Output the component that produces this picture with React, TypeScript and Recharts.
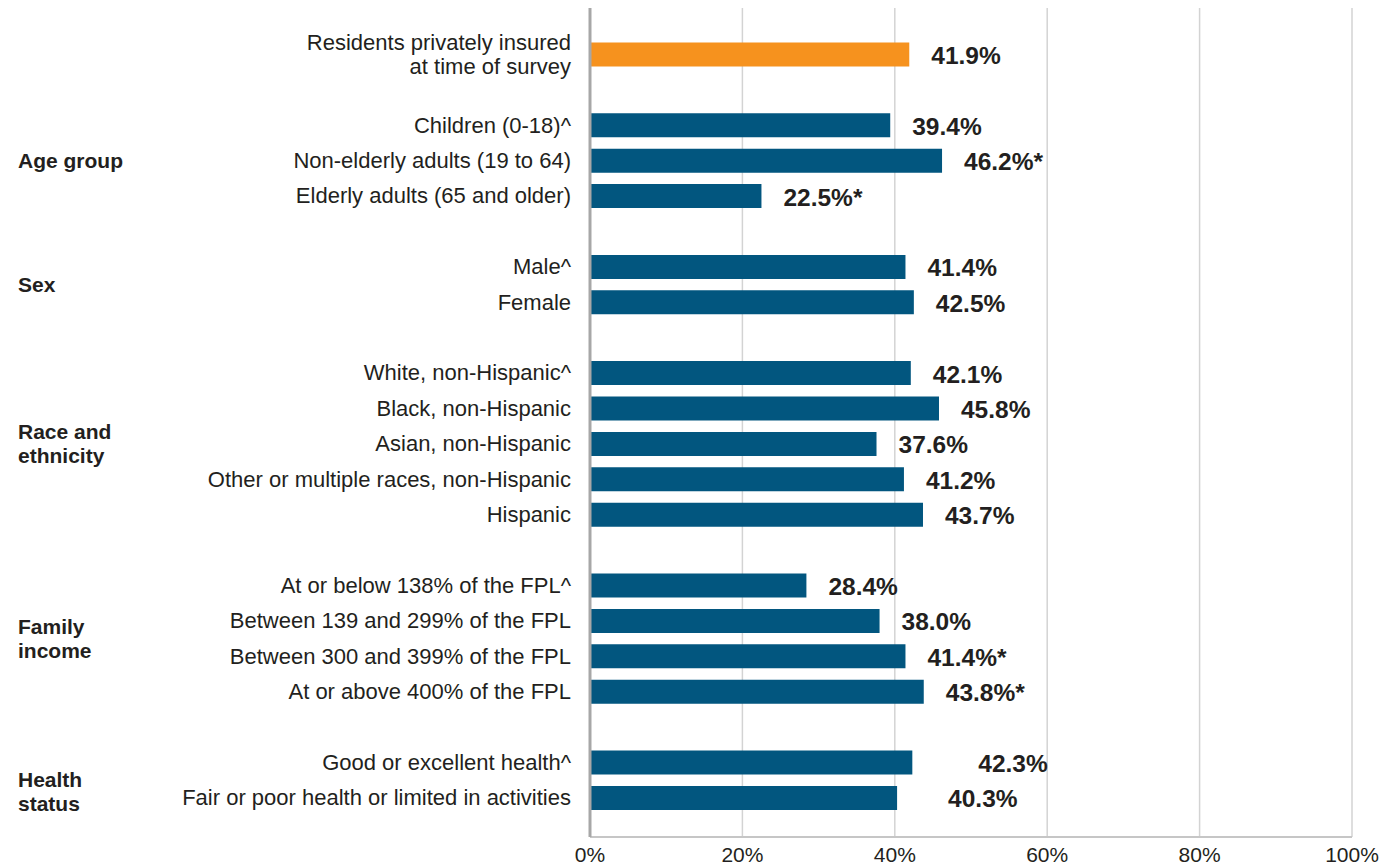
import { Bar, BarChart, CartesianGrid, Cell, LabelList, XAxis, YAxis } from "recharts"

const overallCategories = ["Residents privately insured\nat time of survey"]
const overallValues = [41.9]
const overallLabels = ["41.9%"]

const ageCategories = ["Children (0-18)^", "Non-elderly adults (19 to 64)", "Elderly adults (65 and older)"]
const ageValues = [39.4, 46.2, 22.5]
const ageLabels = ["39.4%", "46.2%*", "22.5%*"]

const sexCategories = ["Male^", "Female"]
const sexValues = [41.4, 42.5]
const sexLabels = ["41.4%", "42.5%"]

const raceCategories = [
  "White, non-Hispanic^",
  "Black, non-Hispanic",
  "Asian, non-Hispanic",
  "Other or multiple races, non-Hispanic",
  "Hispanic",
]
const raceValues = [42.1, 45.8, 37.6, 41.2, 43.7]
const raceLabels = ["42.1%", "45.8%", "37.6%", "41.2%", "43.7%"]

const incomeCategories = [
  "At or below 138% of the FPL^",
  "Between 139 and 299% of the FPL",
  "Between 300 and 399% of the FPL",
  "At or above 400% of the FPL",
]
const incomeValues = [28.4, 38.0, 41.4, 43.8]
const incomeLabels = ["28.4%", "38.0%", "41.4%*", "43.8%*"]

const healthCategories = ["Good or excellent health^", "Fair or poor health or limited in activities"]
const healthValues = [42.3, 40.3]
const healthLabels = ["42.3%", "40.3%"]

const xTicks = [0, 20, 40, 60, 80, 100]

const GROUPS = [
  { title: "", categories: overallCategories, values: overallValues, labels: overallLabels },
  { title: "Age group", categories: ageCategories, values: ageValues, labels: ageLabels },
  { title: "Sex", categories: sexCategories, values: sexValues, labels: sexLabels },
  { title: "Race and\nethnicity", categories: raceCategories, values: raceValues, labels: raceLabels },
  { title: "Family\nincome", categories: incomeCategories, values: incomeValues, labels: incomeLabels },
  { title: "Health\nstatus", categories: healthCategories, values: healthValues, labels: healthLabels },
]

type Row = {
  id: string
  name: string
  value: number | null
  label: string
  group: string
  first: boolean
  size: number
  overall: boolean
}

// one empty row between groups
const rows: Row[] = []
GROUPS.forEach((g, gi) => {
  if (gi > 0) {
    rows.push({ id: `gap-${gi}`, name: "", value: null, label: "", group: "", first: false, size: 0, overall: false })
  }
  g.categories.forEach((name, i) => {
    rows.push({
      id: `row-${gi}-${i}`,
      name,
      value: g.values[i],
      label: g.labels[i],
      group: g.title,
      first: i === 0,
      size: g.categories.length,
      overall: gi === 0,
    })
  })
})

const FONT = "'Liberation Sans', Arial, Helvetica, sans-serif"
const TEXT = "#231f20"
const ORANGE = "#f6921e"
const BLUE = "#02567f"

const TOP = 8
const PLOT_H = 829
const PAD_TOP = 28.5
const PAD_BOTTOM = 21.7
const ROW = (PLOT_H - PAD_TOP - PAD_BOTTOM) / rows.length
const LINE = 24

// a few labels sit further right in the original
const LABEL_SHIFT: Record<string, number> = { "42.3%": 44, "40.3%": 29 }
const GROUP_SHIFT: Record<string, number> = { "Health\nstatus": 12 }

function CategoryTick({ x, y, payload }: any) {
  const row = rows.find((r) => r.id === payload.value)
  if (!row || !row.name) return null
  const lines = row.name.split("\n")
  const base = y - ((lines.length - 1) / 2) * LINE + 7.5
  let group = null
  if (row.first && row.group) {
    const gl = row.group.split("\n")
    const cy = y + ((row.size - 1) / 2) * ROW + (GROUP_SHIFT[row.group] ?? 0)
    const gb = cy - ((gl.length - 1) / 2) * LINE + 7.5
    group = (
      <text x={18} y={gb} fill={TEXT} fontSize={21} fontWeight="bold" fontFamily={FONT}>
        {gl.map((l, i) => (
          <tspan key={i} x={18} y={gb + i * LINE}>
            {l}
          </tspan>
        ))}
      </text>
    )
  }
  return (
    <g>
      <text x={x} y={base} textAnchor="end" fill={TEXT} fontSize={22} fontFamily={FONT}>
        {lines.map((l, i) => (
          <tspan key={i} x={x} y={base + i * LINE}>
            {l}
          </tspan>
        ))}
      </text>
      {group}
    </g>
  )
}

function ValueLabel(props: any) {
  if (!props.value) return null
  const vb = props.viewBox && typeof props.viewBox.x === "number" ? props.viewBox : props
  const { x, y, width, height } = vb
  const extra = LABEL_SHIFT[props.value] ?? 0
  return (
    <text
      x={x + width + 22 + extra}
      y={y + height / 2 + 1}
      dominantBaseline="central"
      fill={TEXT}
      fontSize={24.5}
      fontWeight="bold"
      fontFamily={FONT}
    >
      {props.value}
    </text>
  )
}

export default function App() {
  return (
    <div style={{ position: "absolute", left: 0, top: 0, background: "#fff" }}>
      <BarChart
        width={1399}
        height={866}
        data={rows}
        layout="vertical"
        margin={{ top: TOP, right: 47, bottom: 0, left: 0 }}
      >
        <CartesianGrid horizontal={false} stroke="#d3d3d3" strokeWidth={1.5} />
        <XAxis
          type="number"
          domain={[0, 100]}
          ticks={xTicks}
          tickFormatter={(v) => `${v}%`}
          height={29}
          tickSize={0}
          tickMargin={10}
          axisLine={{ stroke: "#c6c6c6", strokeWidth: 2 }}
          tick={{ fill: TEXT, fontSize: 21, fontFamily: FONT }}
        />
        <YAxis
          type="category"
          dataKey="id"
          width={590}
          tickSize={0}
          tickMargin={19}
          interval={0}
          padding={{ top: PAD_TOP, bottom: PAD_BOTTOM }}
          axisLine={{ stroke: "#a7a7a7", strokeWidth: 3 }}
          tick={<CategoryTick />}
        />
        <Bar dataKey="value" barSize={24} isAnimationActive={false}>
          {rows.map((r) => (
            <Cell key={r.id} fill={r.overall ? ORANGE : BLUE} />
          ))}
          <LabelList dataKey="label" content={<ValueLabel />} />
        </Bar>
      </BarChart>
    </div>
  )
}
